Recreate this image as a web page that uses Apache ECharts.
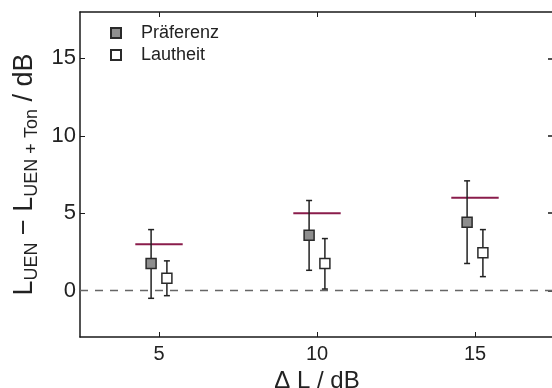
<!DOCTYPE html>
<html>
<head>
<meta charset="utf-8">
<script src="https://cdn.jsdelivr.net/npm/echarts@6/dist/echarts.min.js"></script>
<style>html,body{margin:0;padding:0;background:#fff;overflow:hidden}#c{width:552px;height:388px}</style>
</head>
<body>
<div id="c"></div>
<script>
// Data
var levelSteps = [5, 10, 15];
var xTicks = [5, 10, 15];
var yTicks = [0, 5, 10, 15];
var prefX = [4.75, 9.75, 14.75];
var prefMean = [1.75, 3.58, 4.42];
var prefLow = [-0.5, 1.31, 1.75];
var prefHigh = [3.94, 5.82, 7.09];
var lautX = [5.25, 10.25, 15.25];
var lautMean = [0.8, 1.75, 2.44];
var lautLow = [-0.33, 0.1, 0.9];
var lautHigh = [1.92, 3.36, 3.94];
var refValue = [3, 5, 6];
var refHalfWidth = 0.75;
var zeroLine = [[2.5, 0], [17.5, 0]];

var font = 'Liberation Sans, Arial, Helvetica, sans-serif';
var axisColor = '#1a1a1a';

function pairs(xs, ys) { return xs.map(function (x, i) { return [x, ys[i]]; }); }
function errData(xs, lo, hi) { return xs.map(function (x, i) { return [x, lo[i], hi[i]]; }); }

function errRender(params, api) {
  var x = api.value(0), lo = api.value(1), hi = api.value(2);
  var pLo = api.coord([x, lo]), pHi = api.coord([x, hi]);
  var cap = 3;
  var st = { stroke: '#222', lineWidth: 1.5 };
  return {
    type: 'group',
    children: [
      { type: 'line', shape: { x1: pLo[0], y1: pLo[1], x2: pHi[0], y2: pHi[1] }, style: st },
      { type: 'line', shape: { x1: pLo[0] - cap, y1: pLo[1], x2: pLo[0] + cap, y2: pLo[1] }, style: st },
      { type: 'line', shape: { x1: pHi[0] - cap, y1: pHi[1], x2: pHi[0] + cap, y2: pHi[1] }, style: st }
    ]
  };
}

function refRender(params, api) {
  var x = api.value(0), y = api.value(1);
  var a = api.coord([x - refHalfWidth, y]), b = api.coord([x + refHalfWidth, y]);
  return { type: 'line', shape: { x1: a[0], y1: a[1], x2: b[0], y2: b[1] },
    style: { stroke: '#8a1c4b', lineWidth: 2 } };
}

var chart = echarts.init(document.getElementById('c'), null, { renderer: 'canvas' });
chart.setOption({
  backgroundColor: '#fff',
  animation: false,
  textStyle: { fontFamily: font },
  grid: { left: 80, top: 12, width: 474, bottom: 51, containLabel: false, outerBoundsMode: 'none' },
  legend: {
    orient: 'vertical', left: 105, top: 19, itemWidth: 10, itemHeight: 10, itemGap: 4,
    data: ['Präferenz', 'Lautheit'],
    textStyle: { fontSize: 18, color: '#222', fontFamily: font, padding: [0, 0, 0, 15] }
  },
  xAxis: [{
    type: 'value', min: 2.5, max: 17.5, position: 'bottom',
    name: 'Δ L / dB', nameLocation: 'middle', nameGap: 26,
    nameTextStyle: { fontSize: 24, color: '#222', fontFamily: font },
    axisLine: { show: true, onZero: false, lineStyle: { color: axisColor, width: 1.5 } },
    axisTick: { show: true, inside: true, length: 5, customValues: xTicks, lineStyle: { color: axisColor } },
    axisLabel: { show: true, customValues: xTicks, fontSize: 20, color: '#222', margin: 7, fontFamily: font },
    splitLine: { show: false }
  }, {
    type: 'value', min: 2.5, max: 17.5, position: 'top',
    axisLine: { show: true, onZero: false, lineStyle: { color: axisColor, width: 1.5 } },
    axisTick: { show: true, inside: true, length: 5, customValues: xTicks, lineStyle: { color: axisColor } },
    axisLabel: { show: false }, splitLine: { show: false }
  }],
  yAxis: [{
    type: 'value', min: -3, max: 18, position: 'left',
    name: '{a|L}{b|UEN}{a| − L}{b|UEN + Ton}{a| / dB}',
    nameLocation: 'middle', nameGap: 39, nameRotate: 90,
    nameTextStyle: {
      fontFamily: font, color: '#222',
      rich: {
        a: { fontSize: 27, color: '#222', fontFamily: font, lineHeight: 32, verticalAlign: 'middle' },
        b: { fontSize: 18, color: '#222', fontFamily: font, lineHeight: 18, verticalAlign: 'bottom' }
      }
    },
    axisLine: { show: true, onZero: false, lineStyle: { color: axisColor, width: 1.5 } },
    axisTick: { show: true, inside: true, length: 5, customValues: yTicks, lineStyle: { color: axisColor } },
    axisLabel: { show: true, customValues: yTicks, fontSize: 22, color: '#222', margin: 4, fontFamily: font },
    splitLine: { show: false }
  }, {
    type: 'value', min: -3, max: 18, position: 'right', offset: 0,
    axisLine: { show: false },
    axisTick: { show: true, inside: true, length: 6, customValues: yTicks, lineStyle: { color: axisColor, width: 1.5 } },
    axisLabel: { show: false }, splitLine: { show: false }
  }],
  series: [
    {
      type: 'line', data: zeroLine, symbol: 'none', silent: true,
      lineStyle: { color: '#666', width: 1.5, type: [8, 7] }, z: 1
    },
    {
      type: 'custom', renderItem: refRender, silent: true, z: 2,
      data: pairs(levelSteps, refValue)
    },
    {
      type: 'custom', renderItem: errRender, silent: true, z: 3,
      data: errData(prefX, prefLow, prefHigh)
    },
    {
      type: 'custom', renderItem: errRender, silent: true, z: 3,
      data: errData(lautX, lautLow, lautHigh)
    },
    {
      name: 'Präferenz', type: 'scatter', symbol: 'rect', symbolSize: 10, z: 5,
      itemStyle: { color: '#8e8e8e', borderColor: '#2a2a2a', borderWidth: 1.5, opacity: 1 },
      data: pairs(prefX, prefMean)
    },
    {
      name: 'Lautheit', type: 'scatter', symbol: 'rect', symbolSize: 10, z: 5,
      itemStyle: { color: '#ffffff', borderColor: '#2a2a2a', borderWidth: 1.5, opacity: 1 },
      data: pairs(lautX, lautMean)
    }
  ]
});
</script>
</body>
</html>
